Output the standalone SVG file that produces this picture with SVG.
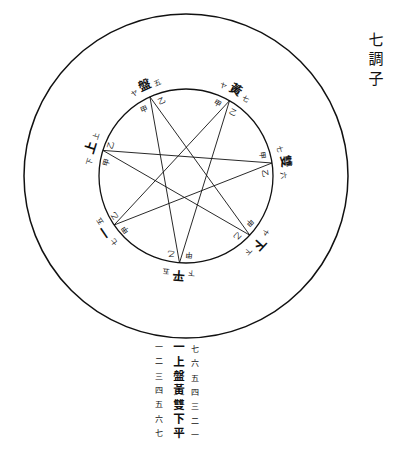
<svg xmlns="http://www.w3.org/2000/svg" width="400" height="461" viewBox="0 0 400 461">
<style>
text{font-family:"Noto Sans CJK JP","Noto Sans CJK TC",sans-serif;fill:#111;text-anchor:middle;dominant-baseline:central}
.big{font-size:12.5px;font-weight:bold}
.sm{font-size:7px}
.in{font-size:7.5px}
.v{writing-mode:vertical-rl;text-anchor:start}
.col{font-size:11.5px;font-weight:bold;letter-spacing:2.8px}
.num{font-size:8px;letter-spacing:6.3px}
.title{font-size:15px;letter-spacing:4.5px}
.ring{fill:none;stroke:#111}
.star{fill:none;stroke:#111;stroke-width:0.9;stroke-linejoin:miter}
</style>
<rect width="400" height="461" fill="#fff"/>
<circle class="ring" cx="186" cy="176" r="162" stroke-width="1.5"/>
<circle class="ring" cx="186" cy="176" r="87" stroke-width="1.3"/>
<g id="connectors">
<polygon class="star" points="229.5,100.7 179.5,262.8 149.9,96.8 249.8,235.2 102.9,150.4 272.0,163.0 114.1,225.0"/>
</g>
<g id="node-huang">
<text class="big" transform="translate(236.5 88.5) rotate(30)">黃</text>
<text class="sm" transform="translate(223.5 85.5) rotate(30)">ヤ</text>
<text class="sm" transform="translate(245.7 98.3) rotate(30)">七</text>
<text class="in" transform="translate(217.9 102.6) rotate(30)">甲</text>
<text class="in" transform="translate(233.6 111.7) rotate(30)">乙</text>
</g>
<g id="node-sou">
<text class="big" transform="translate(287 161) rotate(81.4)">雙</text>
<text class="sm" transform="translate(280.2 148.9) rotate(81.4)">七</text>
<text class="sm" transform="translate(284.0 175.2) rotate(81.4)">六</text>
<text class="in" transform="translate(263.2 155.2) rotate(81.4)">甲</text>
<text class="in" transform="translate(265.9 173.1) rotate(81.4)">乙</text>
</g>
<g id="node-ge">
<text class="big" transform="translate(260.5 244.7) rotate(132.9)">下</text>
<text class="sm" transform="translate(265.9 232.7) rotate(132.9)">ヤ</text>
<text class="sm" transform="translate(248.5 251.5) rotate(132.9)">下</text>
<text class="in" transform="translate(250.4 223.4) rotate(132.9)">甲</text>
<text class="in" transform="translate(238.1 236.7) rotate(132.9)">乙</text>
</g>
<g id="node-hyo">
<text class="big" transform="translate(178.5 276.7) rotate(184.3)">平</text>
<text class="sm" transform="translate(191.5 273.8) rotate(184.3)">下</text>
<text class="sm" transform="translate(166.0 271.9) rotate(184.3)">五</text>
<text class="in" transform="translate(189.1 255.9) rotate(184.3)">甲</text>
<text class="in" transform="translate(171.0 254.6) rotate(184.3)">乙</text>
</g>
<g id="node-ichi">
<text class="big" transform="translate(103.5 233.5) rotate(235.7)">一</text>
<text class="sm" transform="translate(113.9 242.3) rotate(235.7)">七</text>
<text class="sm" transform="translate(99.5 221.5) rotate(235.7)">五</text>
<text class="in" transform="translate(124.4 230.3) rotate(235.7)">甲</text>
<text class="in" transform="translate(113.7 216.3) rotate(235.7)">乙</text>
</g>
<g id="node-jo">
<text class="big" transform="translate(89.5 147.2) rotate(287.1)">上</text>
<text class="sm" transform="translate(88.9 161.6) rotate(287.1)">下</text>
<text class="sm" transform="translate(95.4 136.1) rotate(287.1)">上</text>
<text class="in" transform="translate(105.4 162.2) rotate(287.1)">甲</text>
<text class="in" transform="translate(109.7 144.9) rotate(287.1)">乙</text>
</g>
<g id="node-ban">
<text class="big" transform="translate(144.1 84.1) rotate(335.5)">盤</text>
<text class="sm" transform="translate(134.1 92.9) rotate(335.5)">ヤ</text>
<text class="sm" transform="translate(157.3 82.3) rotate(335.5)">五</text>
<text class="in" transform="translate(143.8 108.4) rotate(335.5)">甲</text>
<text class="in" transform="translate(161.3 99.9) rotate(335.5)">乙</text>
</g>
<g id="title">
<text class="title v" x="376" y="31.5">七調子</text>
</g>
<g id="table">
<text class="num v" x="159" y="343">一二三四五六七</text>
<text class="col v" x="179" y="341.2">一上盤黃雙下平</text>
<text class="num v" x="195" y="345">七六五四三二一</text>
</g>
</svg>
